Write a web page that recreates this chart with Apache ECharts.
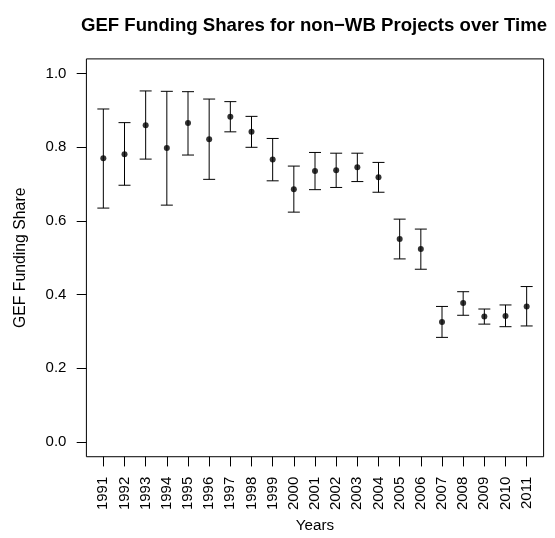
<!DOCTYPE html>
<html>
<head>
<meta charset="utf-8">
<script src="https://cdn.jsdelivr.net/npm/echarts@6/dist/echarts.min.js"></script>
<style>html,body{margin:0;padding:0;background:#fff}#c{width:555px;height:538px}</style>
</head>
<body>
<div id="c"></div>
<script>
const years = [1991,1992,1993,1994,1995,1996,1997,1998,1999,2000,2001,2002,2003,2004,2005,2006,2007,2008,2009,2010,2011];
const shares = [0.770,0.781,0.860,0.798,0.866,0.822,0.883,0.842,0.767,0.686,0.736,0.738,0.746,0.719,0.551,0.524,0.326,0.377,0.341,0.342,0.368];
const lower  = [0.635,0.697,0.768,0.643,0.779,0.713,0.842,0.800,0.709,0.624,0.685,0.691,0.707,0.678,0.497,0.469,0.284,0.344,0.320,0.313,0.315];
const upper  = [0.904,0.867,0.953,0.952,0.951,0.931,0.924,0.884,0.824,0.749,0.786,0.784,0.784,0.759,0.605,0.578,0.368,0.408,0.361,0.372,0.422];
const yTicks = [0.0,0.2,0.4,0.6,0.8,1.0];

const FONT = '"Liberation Sans", Arial, Helvetica, sans-serif';
const chart = echarts.init(document.getElementById('c'), null, {renderer:'canvas'});

const errData = years.map((y,i)=>[y, lower[i], upper[i]]);
const ptData = years.map((y,i)=>[y, shares[i]]);

chart.setOption({
  animation:false,
  backgroundColor:'#fff',
  title:{
    text:'GEF Funding Shares for non\u2212WB Projects over Time',
    left:309, textAlign:'center', top:11,
    textStyle:{fontFamily:FONT, fontSize:18.6, fontWeight:'bold', color:'#000'}
  },
  grid:{left:86.4, top:58.9, width:457.2, height:399.6, show:true, borderColor:'#000', borderWidth:1, backgroundColor:'transparent'},
  xAxis:{
    type:'value', min:1990.2, max:2011.8,
    name:'Years', nameLocation:'middle', nameGap:57,
    nameTextStyle:{fontFamily:FONT, fontSize:15.2, color:'#000'},
    axisLine:{show:false, onZero:false},
    axisTick:{show:true, customValues:years, length:9.7, lineStyle:{color:'#000', width:1}},
    axisLabel:{customValues:years, rotate:90, margin:20, fontFamily:FONT, fontSize:15, color:'#000', formatter:v=>String(v)},
    splitLine:{show:false}
  },
  yAxis:{
    type:'value', min:-0.04, max:1.04,
    name:'GEF Funding Share', nameLocation:'middle', nameGap:58,
    nameTextStyle:{fontFamily:FONT, fontSize:15.8, color:'#000'},
    axisLine:{show:false, onZero:false},
    axisTick:{show:true, customValues:yTicks, length:9.7, lineStyle:{color:'#000', width:1}},
    axisLabel:{customValues:yTicks, margin:20, fontFamily:FONT, fontSize:15, color:'#000', formatter:v=>v.toFixed(1)},
    splitLine:{show:false}
  },
  series:[
    {
      type:'custom',
      data:errData,
      renderItem:function(params, api){
        const x = api.value(0);
        const lo = api.coord([x, api.value(1)]);
        const hi = api.coord([x, api.value(2)]);
        const hw = 6;
        const st = {stroke:'#000', lineWidth:1};
        return {type:'group', children:[
          {type:'line', shape:{x1:lo[0], y1:lo[1], x2:hi[0], y2:hi[1]}, style:st},
          {type:'line', shape:{x1:lo[0]-hw, y1:lo[1], x2:lo[0]+hw, y2:lo[1]}, style:st},
          {type:'line', shape:{x1:hi[0]-hw, y1:hi[1], x2:hi[0]+hw, y2:hi[1]}, style:st}
        ]};
      },
      z:2
    },
    {
      type:'scatter',
      data:ptData,
      symbol:'circle', symbolSize:6,
      itemStyle:{color:'#000'},
      z:3
    }
  ]
});
</script>
</body>
</html>
